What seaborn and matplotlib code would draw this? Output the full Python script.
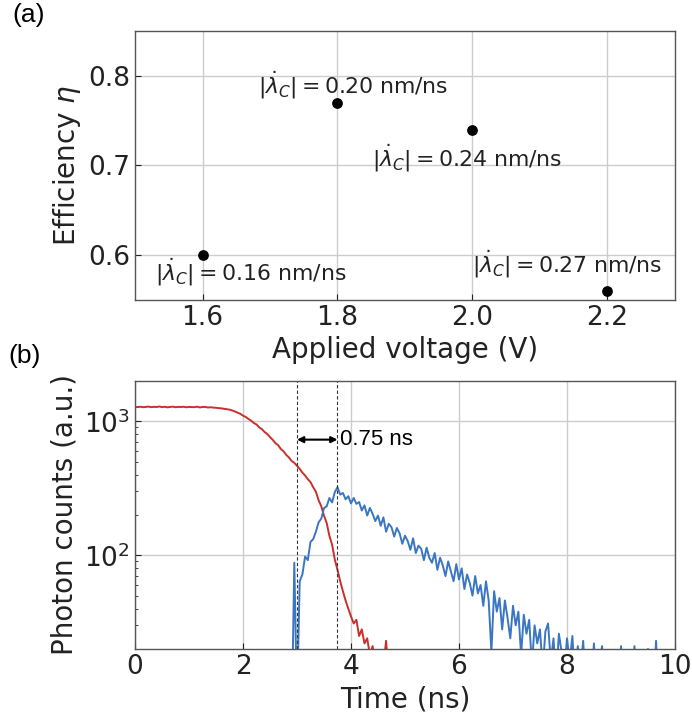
"""Two-panel figure: efficiency vs. applied voltage (a) and time-resolved
photon counts (b)."""

import matplotlib as mpl
import matplotlib.pyplot as plt
import numpy as np
import pandas as pd
import seaborn as sns

sns.set_theme(style="whitegrid")
mpl.rcParams.update(
    {
        "font.family": ["DejaVu Sans"],
        "axes.edgecolor": "#555555",
        "axes.linewidth": 1.0,
        "grid.color": "#cccccc",
        "grid.linewidth": 1.0,
        "xtick.direction": "in",
        "ytick.direction": "in",
        "xtick.bottom": True,
        "ytick.left": True,
        "xtick.color": "#222222",
        "ytick.color": "#222222",
        "axes.labelcolor": "#222222",
        "text.color": "#222222",
        "mathtext.fontset": "dejavusans",
    }
)

RED = "#c9302c"
BLUE = "#3a76c2"

# ---- panel (a) data ----
voltage = [1.6, 1.8, 2.0, 2.2]
efficiency = [0.60, 0.77, 0.74, 0.56]
chirp_rate = ["0.16", "0.20", "0.24", "0.27"]

# ---- panel (b) data (0.05 ns bins) ----
red_t0 = 0.0
blue_t0 = 2.90
bin_ns = 0.05
red_counts = [
    1282, 1278, 1286, 1275, 1281, 1288, 1276, 1283, 1279, 1290, 1277, 1284,
    1272, 1280, 1287, 1274, 1282, 1279, 1285, 1273, 1281, 1278, 1276, 1286,
    1270, 1279, 1282, 1268, 1274, 1266, 1262, 1255, 1250, 1240, 1232, 1222,
    1205, 1185, 1160, 1138, 1102, 1078, 1042, 1012, 972, 948, 902, 874,
    832, 804, 762, 728, 688, 664, 622, 598, 562, 538, 506, 490,
    466, 442, 414, 394, 370, 352, 322, 298, 258, 232, 198, 174,
    140, 120, 93, 78, 64, 54, 46, 40, 35, 31, 33, 25,
    28, 22, 24, 18, 21, 16, 17, 14, 15, 23, 12,
]
blue_counts = [
    5, 88, 8, 64, 72, 98, 92, 126, 132, 150, 176, 188,
    225, 232, 268, 248, 296, 322, 284, 292, 262, 276, 244, 268,
    242, 250, 216, 236, 198, 226, 204, 180, 198, 166, 192, 150,
    172, 162, 138, 160, 146, 122, 140, 128, 110, 134, 104, 118,
    112, 92, 114, 96, 88, 104, 78, 96, 84, 70, 90, 76,
    64, 86, 66, 80, 56, 72, 62, 50, 70, 52, 60, 42,
    64, 46, 19, 54, 38, 48, 28, 46, 34, 24, 42, 30,
    38, 18, 36, 26, 33, 15, 30, 22, 28, 14, 27, 31,
    16, 24, 12, 26, 19, 13, 24, 16, 25, 11, 21, 14,
    23, 10, 18, 12, 22, 9, 16, 21, 8, 13, 17, 9,
    12, 6, 21, 9, 12, 7, 11, 21, 8, 10, 6, 11,
    20, 7, 10, 23, 8,
]
marker_t = [3.0, 3.75]


def main():
    df_a = pd.DataFrame({"V": voltage, "eta": efficiency, "rate": chirp_rate})
    red = pd.DataFrame(
        {"t": red_t0 + bin_ns * np.arange(len(red_counts)), "n": red_counts}
    )
    blue = pd.DataFrame(
        {"t": blue_t0 + bin_ns * np.arange(len(blue_counts)), "n": blue_counts}
    )

    fig = plt.figure(figsize=(6.92, 7.19), dpi=100)
    ax1 = fig.add_axes([0.1951, 0.5828, 0.7803, 0.3741])
    ax2 = fig.add_axes([0.1951, 0.0974, 0.7803, 0.3727])

    # (a) efficiency vs voltage
    sns.scatterplot(data=df_a, x="V", y="eta", ax=ax1, color="black", s=60,
                    edgecolor="black", linewidth=0, zorder=3)
    # label offsets (dx, dy) relative to each point, in data units
    offsets = [(-0.07, -0.019), (-0.118, 0.020), (-0.149, -0.032), (-0.201, 0.030)]
    for (_, row), (dx, dy) in zip(df_a.iterrows(), offsets):
        ax1.text(row.V + dx, row.eta + dy,
                 r"$|\dot{\lambda}_C| = $" + f"{row.rate} nm/ns",
                 fontsize=15.8, ha="left", va="center")
    ax1.set_xlim(1.5, 2.3)
    ax1.set_ylim(0.55, 0.85)
    ax1.set_xticks([1.6, 1.8, 2.0, 2.2])
    ax1.set_yticks([0.6, 0.7, 0.8])
    ax1.set_xlabel("Applied voltage (V)", fontsize=20)
    ax1.set_ylabel(r"Efficiency $\eta$", fontsize=20)

    # (b) photon counts
    sns.lineplot(data=red, x="t", y="n", ax=ax2, color=RED, linewidth=1.4,
                 estimator=None)
    sns.lineplot(data=blue, x="t", y="n", ax=ax2, color=BLUE, linewidth=1.4,
                 estimator=None)
    ax2.set_yscale("log")
    ax2.set_xlim(0, 10)
    ax2.set_ylim(20, 2000)
    ax2.set_xticks([0, 2, 4, 6, 8, 10])
    for t in marker_t:
        ax2.axvline(t, color="#333333", linestyle="--", linewidth=0.8, dashes=(3, 2))
    ax2.annotate("", xy=(marker_t[0], 730), xytext=(marker_t[1], 730),
                 arrowprops={"arrowstyle": "<|-|>", "color": "black", "lw": 1.5,
                             "mutation_scale": 9, "shrinkA": 0, "shrinkB": 0})
    ax2.text(marker_t[1] + 0.05, 730, f"{marker_t[1] - marker_t[0]:.2f} ns",
             fontsize=16, family="Liberation Sans", ha="left", va="center",
             color="black")
    ax2.set_xlabel("Time (ns)", fontsize=20)
    ax2.set_ylabel("Photon counts (a.u.)", fontsize=20)
    ax2.grid(True, which="major")
    ax2.grid(False, which="minor")

    for ax in (ax1, ax2):
        ax.tick_params(which="major", labelsize=19, length=4, width=0.8)
        ax.tick_params(which="minor", length=2.5, width=0.6)
        for s in ax.spines.values():
            s.set_visible(True)

    fig.text(0.018, 0.996, "(a)", fontsize=19, family="Liberation Sans",
             va="top", ha="left", color="black")
    fig.text(0.012, 0.521, "(b)", fontsize=19, family="Liberation Sans",
             va="top", ha="left", color="black")

    fig.savefig("out.png", dpi=100)


if __name__ == "__main__":
    main()
